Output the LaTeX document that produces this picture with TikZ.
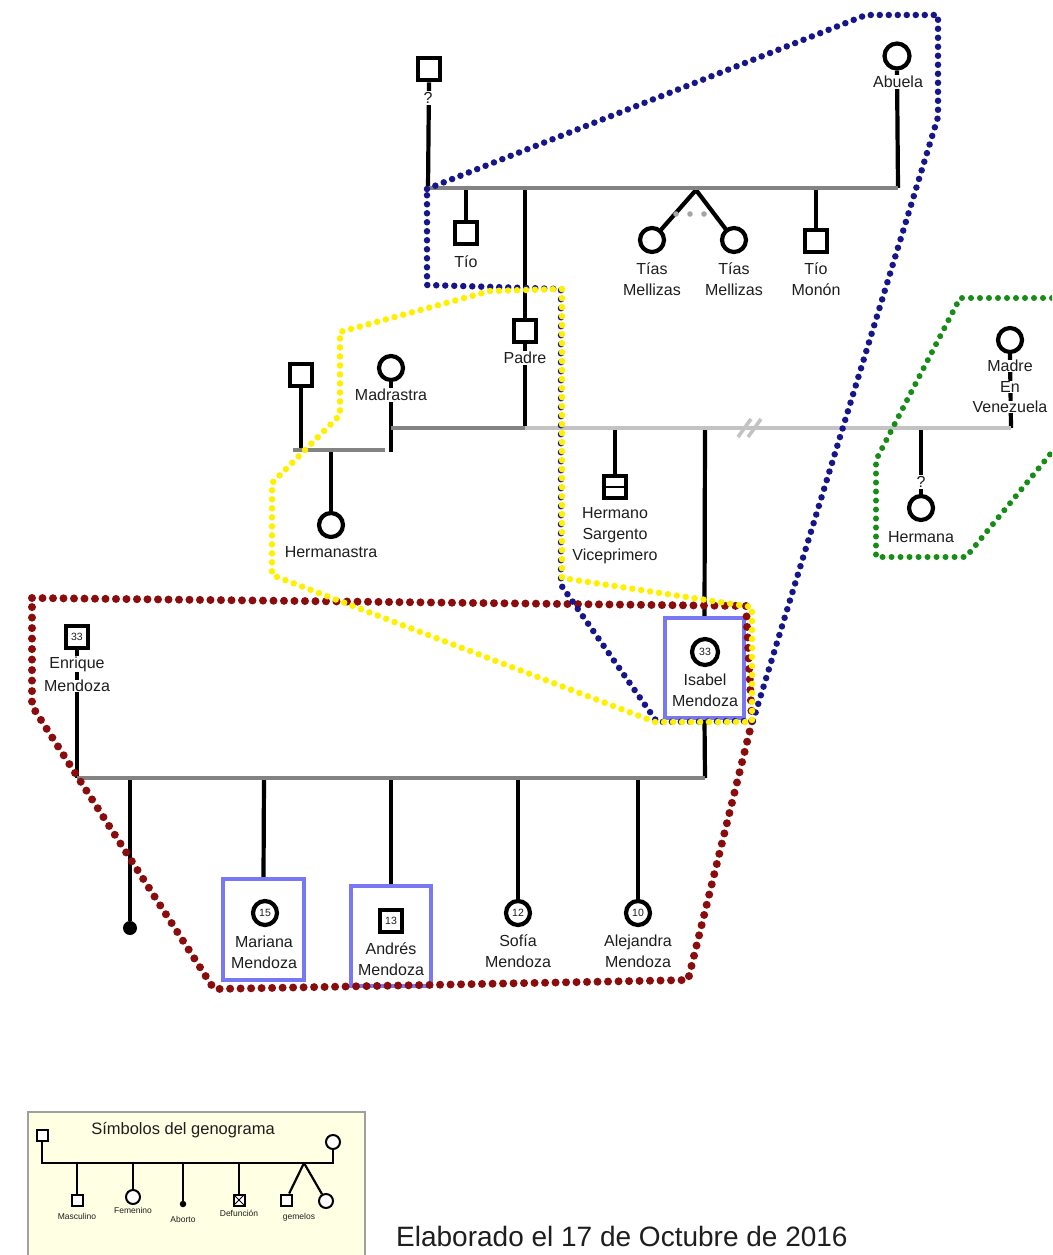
\documentclass[tikz,border=0pt]{standalone}
\usepackage{fontspec}
\setmainfont{Liberation Sans}
\definecolor{navyd}{HTML}{16168A}
\definecolor{redd}{HTML}{8A0C0C}
\definecolor{yel}{HTML}{FFF000}
\definecolor{grn}{HTML}{178C17}
\definecolor{hlblue}{HTML}{7878F5}
\definecolor{mgray}{HTML}{838383}
\definecolor{lgray}{HTML}{C3C3C3}
\definecolor{txt}{HTML}{1E1E1E}
\definecolor{legfill}{HTML}{FFFFE3}
\definecolor{legedge}{HTML}{A0A0A0}
\newcommand\lblfont{\fontsize{16}{21}\selectfont}
\newcommand\numfont{\fontsize{10.5}{12}\selectfont}
\newcommand\legfont{\fontsize{8.5}{10}\selectfont}
\begin{document}
\begin{tikzpicture}[x=1pt,y=-1pt,
  conn/.style={line width=4.2pt,black},
  marr/.style={line width=4.5pt,mgray},
  marrlt/.style={line width=4.5pt,lgray},
  malesym/.style={draw=black,line width=4.2pt,minimum size=22.5pt,inner sep=0pt,fill=white,font=\numfont,text=txt},
  femsym/.style={draw=black,circle,line width=4.2pt,minimum size=24pt,inner sep=0pt,fill=white,font=\numfont,text=txt},
  lbl/.style={font=\lblfont,fill=white,inner sep=1pt,align=center,text=txt},
  hlbox/.style={draw=hlblue,line width=4.2pt,fill=white,inner sep=0pt},
  dotl/.style={line cap=round,line join=round,dash pattern=on 0pt off 9pt},
  lconn/.style={line width=2.2pt,black},
  lmale/.style={draw=black,line width=2pt,minimum size=11pt,inner sep=0pt,fill=white},
  lfem/.style={draw=black,circle,line width=2pt,minimum size=14pt,inner sep=0pt,fill=white},
  llbl/.style={font=\legfont,text=txt,inner sep=0pt},
]
\useasboundingbox (0,0) rectangle (1052,1255);
\clip (0,0) rectangle (1052,1255);
\fill[white] (0,0) rectangle (1052,1255);

% ---------------- symbols ----------------
% generation 1
\node[malesym] (gf) at (429,69) {};
\node[femsym,minimum size=25pt] (abu) at (897,56) {};
% generation 2
\node[malesym] (tio) at (466,233) {};
\node[malesym] (padre) at (525,331) {};
\node[femsym] (tw1) at (652,240) {};
\node[femsym] (tw2) at (734,240) {};
\node[malesym] (monon) at (816,241) {};
\node[malesym] (lman) at (301,375) {};
\node[femsym] (madra) at (391,368) {};
\node[femsym] (madre) at (1010,340) {};
% generation 3
\node[femsym] (hnastra) at (331,525) {};
\node[malesym] (herm) at (615,487) {};
\draw[line width=2.8pt] (herm.west) -- (herm.east);
\node[femsym] (hna) at (921,508) {};
\node[malesym] (enr) at (77,637) {33};
\node[hlbox,minimum width=79pt,minimum height=100pt] (isabox) at (704.5,668) {};
\node[femsym,minimum size=26pt] (isa) at (705,652) {33};
% generation 4
\node[circle,fill=black,minimum size=14pt,inner sep=0pt] (abo) at (130,928) {};
\node[hlbox,minimum width=81pt,minimum height=101pt] (marbox) at (263.5,929.5) {};
\node[femsym] (mar) at (265,913) {15};
\node[hlbox,minimum width=80pt,minimum height=100pt] (andbox) at (391,936) {};
\node[malesym] (and) at (391,921) {13};
\node[femsym] (sof) at (518,913) {12};
\node[femsym] (ale) at (638,913) {10};

% ---------------- junction coordinates ----------------
\coordinate (tA) at (428,188);
\coordinate (tB) at (898,188);
\coordinate (tTio) at (466,188);
\coordinate (tPad) at (525,188);
\coordinate (tTw) at (696,190);
\coordinate (tMon) at (816,188);
\coordinate (mMad) at (391,428);
\coordinate (mMadEnd) at (391,452);
\coordinate (mPad) at (525,428);
\coordinate (mHer) at (615,428);
\coordinate (mIsa) at (705,428);
\coordinate (mHna) at (921,428);
\coordinate (mMadre) at (1011,428);
\coordinate (sL) at (293,450);
\coordinate (sMan) at (301,450);
\coordinate (sHn) at (331,450);
\coordinate (sR) at (385,450);
\coordinate (bA) at (77,778);
\coordinate (bB) at (705,778);
\coordinate (bAbo) at (130,778);
\coordinate (bMar) at (264,778);
\coordinate (bAnd) at (391,778);
\coordinate (bSof) at (518,778);
\coordinate (bAle) at (638,778);

% ---------------- connectors ----------------
\draw[conn] (gf.south) -- (tA);
\draw[conn] (abu.south) -- (tB);
\draw[conn] (tTio) -- (tio.north);
\draw[conn] (tPad) -- (padre.north);
\draw[conn] (padre.south) -- (mPad);
\draw[conn,line cap=round] (tTw) -- (tw1);
\draw[conn,line cap=round] (tTw) -- (tw2);
\fill[gray!70] (676,214) circle (2.8) (690,214) circle (2.8) (704,214) circle (2.8);
\draw[conn] (tMon) -- (monon.north);
\draw[conn] (madra.south) -- (mMadEnd);
\draw[conn] (lman.south) -- (sMan);
\draw[conn] (sHn) -- (hnastra.north);
\draw[conn] (madre.south) -- (mMadre);
\draw[conn] (mHer) -- (herm.north);
\draw[conn] (mIsa) -- (isabox.north);
\draw[conn] (mHna) -- (hna.north);
\draw[conn] (enr.south) -- (bA);
\draw[conn] (isabox.south) -- (bB);
\draw[conn] (bAbo) -- (abo);
\draw[conn] (bMar) -- (marbox.north);
\draw[conn] (bAnd) -- (andbox.north);
\draw[conn] (bSof) -- (sof.north);
\draw[conn] (bAle) -- (ale.north);
% marriage / sibship lines
\draw[marr] (tA) -- (tB);
\draw[marr] (mMad) -- (mPad);
\draw[marrlt] (mPad) -- (mMadre);
\draw[lgray,line width=3.6pt] (738,437) -- (751,419) (748,437) -- (761,419);
\draw[marr] (sL) -- (sR);
\draw[marr] (bA) -- (bB);

% ---------------- labels ----------------
\node[lbl] (lgf) at (428,98) {?};
\node[lbl] (labu) at (898,82) {Abuela};
\node[lbl] (ltio) at (466,262) {Tío};
\node[lbl] (ltw1) at (652,279) {Tías\\Mellizas};
\node[lbl] (ltw2) at (734,279) {Tías\\Mellizas};
\node[lbl] (lmon) at (816,279) {Tío\\Monón};
\node[lbl] (lpad) at (525,358) {Padre};
\node[lbl] (lmadra) at (391,395) {Madrastra};
\node[lbl,inner sep=0.5pt] (lmd1) at (1010,366) {Madre};
\node[lbl,inner sep=0.5pt] (lmd2) at (1010,387) {En};
\node[lbl,inner sep=0.5pt] (lmd3) at (1010,407) {Venezuela};
\node[lbl] (lhnastra) at (331,552) {Hermanastra};
\node[lbl] (lherm) at (615,536) {Hermano\\Sargento\\Viceprimero};
\node[lbl] (lhq) at (921,482) {?};
\node[lbl] (lhna) at (921,537) {Hermana};
\node[lbl,inner sep=0.5pt] (len1) at (77,664) {Enrique};
\node[lbl,inner sep=0.5pt] (len2) at (77,686) {Mendoza};
\node[lbl] (lisa) at (705,690) {Isabel\\Mendoza};
\node[lbl] (lmar) at (264,952) {Mariana\\Mendoza};
\node[lbl] (land) at (391,959) {Andrés\\Mendoza};
\node[lbl] (lsof) at (518,951) {Sofía\\Mendoza};
\node[lbl] (lale) at (638,951) {Alejandra\\Mendoza};

% ---------------- dotted outlines ----------------
\draw[dotl,redd,line width=8pt,dash pattern=on 0pt off 10.5pt]
  (32,598) -- (746,606) -- (752,722) -- (688,980) -- (214,989) -- (32,706) -- cycle;
\draw[dotl,navyd,line width=6.5pt]
  (427,189) -- (866,15) -- (938,15) -- (938,117) -- (753,721) -- (657,722)
  -- (561,585) -- (561,289) -- (427,285) -- cycle;
\draw[dotl,yel,line width=6.5pt]
  (562,289) -- (490,291) -- (340,332) -- (340,415) -- (272,483) -- (272,575)
  -- (655,722) -- (752,722) -- (752,607) -- (562,578) -- cycle;
\draw[dotl,grn,line width=6pt]
  (1070,298) -- (960,298) -- (876,460) -- (876,557) -- (966,557) -- (1070,430);

% ---------------- legend ----------------
\node[draw=legedge,fill=legfill,line width=1.5pt,minimum width=337pt,minimum height=160pt,inner sep=0pt] (legbox) at (196.5,1192) {};
\node[font=\fontsize{16.5}{18}\selectfont,text=txt,inner sep=0pt] (legtitle) at (183,1130) {Símbolos del genograma};
\node[lmale] (lgM) at (42,1135) {};
\node[lfem] (lgF) at (333,1142) {};
\coordinate (lgA) at (42,1163);
\coordinate (lgB) at (333,1163);
\coordinate (lg1) at (77,1163);
\coordinate (lg2) at (133,1163);
\coordinate (lg3) at (183,1163);
\coordinate (lg4) at (239,1163);
\coordinate (lg5) at (304,1163);
\node[lmale] (lgc1) at (77,1200) {};
\node[lfem] (lgc2) at (133,1197) {};
\node[circle,fill=black,minimum size=6.5pt,inner sep=0pt] (lgc3) at (183,1204) {};
\node[lmale,path picture={\draw[line width=0.9pt] (path picture bounding box.north west) -- (path picture bounding box.south east) (path picture bounding box.north east) -- (path picture bounding box.south west);}] (lgc4) at (239,1200) {};
\node[lmale] (lgc5) at (286,1200) {};
\node[lfem] (lgc6) at (326,1201) {};
\draw[lconn] (lgM.south) -- (lgA) -- (lgB) -- (lgF.south);
\draw[lconn] (lg1) -- (lgc1.north);
\draw[lconn] (lg2) -- (lgc2.north);
\draw[lconn] (lg3) -- (lgc3);
\draw[lconn] (lg4) -- (lgc4.north);
\draw[lconn] (lg5) -- (lgc5);
\draw[lconn] (lg5) -- (lgc6);
\node[llbl] (lt1) at (77,1216) {Masculino};
\node[llbl] (lt2) at (133,1210) {Femenino};
\node[llbl] (lt3) at (183,1219) {Aborto};
\node[llbl] (lt4) at (239,1213) {Defunción};
\node[llbl] (lt5) at (299,1217) {gemelos};

% ---------------- date ----------------
\node[anchor=base west,inner sep=0pt,font=\fontsize{28}{30}\selectfont,text=txt] (date) at (396,1246) {Elaborado el 17 de Octubre de 2016};
\end{tikzpicture}
\end{document}
